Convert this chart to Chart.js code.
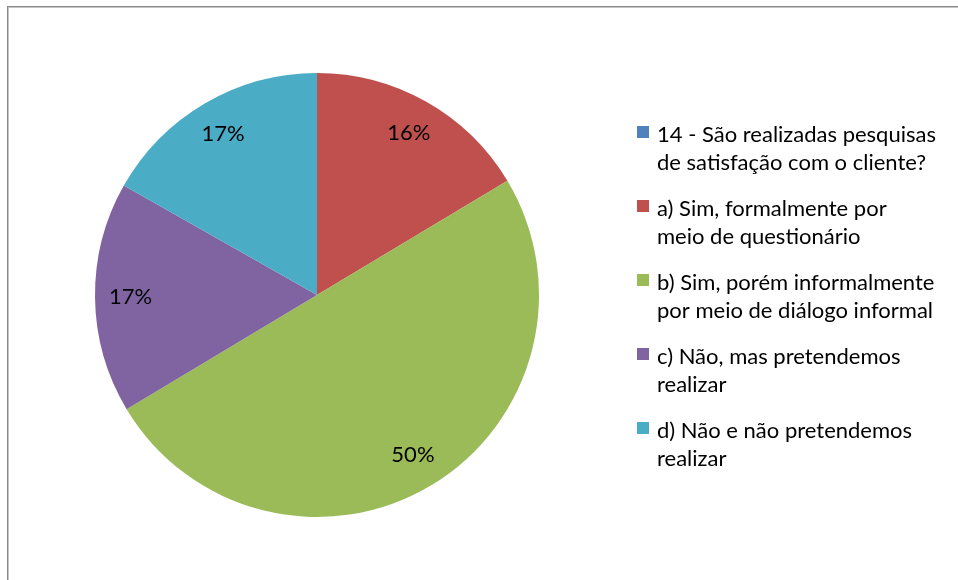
<!DOCTYPE html>
<html>
<head>
<meta charset="utf-8">
<script src="https://cdn.jsdelivr.net/npm/chart.js@4"></script>
<style>
    html, body { margin: 0; padding: 0; background: #fff; }
    #wrap { width: 958px; height: 580px; position: relative; }
</style>
</head>
<body>
<div id="wrap"><canvas id="chart"></canvas></div>
<script>
// categories (each one split into the two legend lines)
const categories = [
    ['14 - São realizadas pesquisas', 'de satisfação com o cliente?'],
    ['a) Sim, formalmente por', 'meio de questionário'],
    ['b) Sim, porém informalmente', 'por meio de diálogo informal'],
    ['c) Não, mas pretendemos', 'realizar'],
    ['d) Não e não pretendemos', 'realizar']
];
// share of answers, in percent
const shares = [0, 16.4, 50, 16.8, 16.8];
const colors = ['#4F81BD', '#C0504D', '#9BBB59', '#8064A2', '#4BACC6'];

const FONT = 'Lato, "Open Sans", sans-serif';

// grey frame around the chart area, like the excel export
const framePlugin = {
    id: 'frame',
    beforeDraw(chart) {
        const ctx = chart.ctx;
        ctx.save();
        ctx.fillStyle = '#8a8a8a';
        ctx.fillRect(7, 6, 951, 1);
        ctx.fillRect(7, 6, 1, 574);
        ctx.fillStyle = '#c4c4c4';
        ctx.fillRect(8, 7, 950, 1);
        ctx.fillRect(8, 7, 1, 573);
        ctx.restore();
    }
};

// percent labels, placed toward the outside of each slice
const sliceLabels = {
    id: 'sliceLabels',
    afterDatasetsDraw(chart) {
        const ctx = chart.ctx;
        const meta = chart.getDatasetMeta(0);
        const data = chart.data.datasets[0].data;
        const total = data.reduce((a, b) => a + b, 0);
        ctx.save();
        ctx.font = '22px ' + FONT;
        ctx.fillStyle = '#000';
        ctx.textAlign = 'center';
        ctx.textBaseline = 'middle';
        meta.data.forEach((arc, i) => {
            if (!data[i]) return;
            const p = arc.getProps(['x', 'y', 'startAngle', 'endAngle', 'outerRadius'], true);
            const mid = (p.startAngle + p.endAngle) / 2;
            const r = p.outerRadius * 0.84;
            const txt = Math.round(data[i] / total * 100) + '%';
            ctx.fillText(txt, p.x + Math.cos(mid) * r, p.y + Math.sin(mid) * r);
        });
        ctx.restore();
    }
};

// legend on the right with two-line entries
const sideLegend = {
    id: 'sideLegend',
    afterDraw(chart) {
        const ctx = chart.ctx;
        const labels = chart.data.labels;
        const bg = chart.data.datasets[0].backgroundColor;
        ctx.save();
        ctx.font = '22px ' + FONT;
        ctx.textBaseline = 'alphabetic';
        ctx.textAlign = 'left';
        let top = 126;
        labels.forEach((lines, i) => {
            ctx.fillStyle = bg[i];
            ctx.fillRect(637, top, 12, 12);
            ctx.fillStyle = '#000';
            lines.forEach((ln, j) => {
                ctx.fillText(ln, 657, top + 16 + j * 28);
            });
            top += 74;
        });
        ctx.restore();
    }
};

new Chart(document.getElementById('chart'), {
    type: 'pie',
    data: {
        labels: categories,
        datasets: [{
            data: shares,
            backgroundColor: colors,
            borderWidth: 0
        }]
    },
    options: {
        responsive: true,
        maintainAspectRatio: false,
        animation: false,
        layout: {
            padding: { top: 73, bottom: 63, left: 95, right: 419 }
        },
        plugins: {
            legend: { display: false },
            tooltip: { enabled: false }
        }
    },
    plugins: [framePlugin, sliceLabels, sideLegend]
});
</script>
</body>
</html>
